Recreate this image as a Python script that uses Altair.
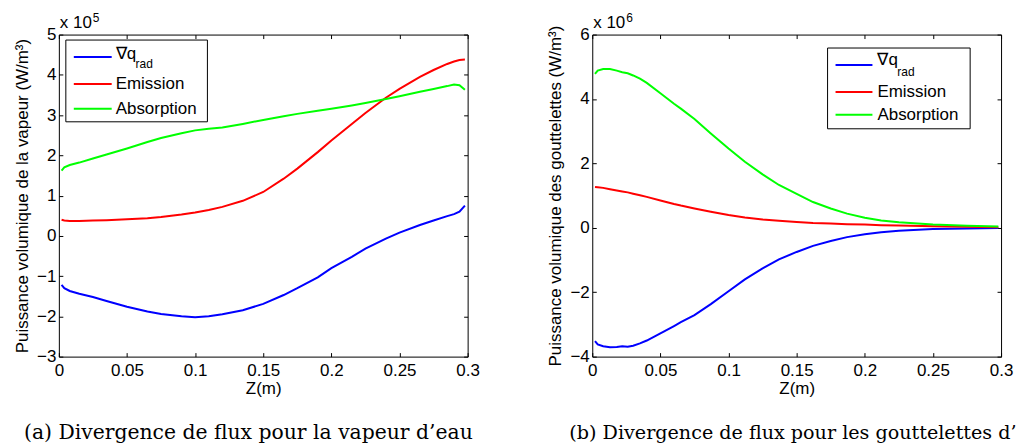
import altair as alt
import pandas as pd

# ---------------- data ----------------
# Panel (a): vapeur d'eau, values in units of 1e5 W/m3
z_a = [0.002, 0.004, 0.008, 0.015, 0.025, 0.035, 0.05, 0.065, 0.075, 0.09, 0.1, 0.11,
       0.12, 0.135, 0.15, 0.165, 0.175, 0.19, 0.2, 0.215, 0.225, 0.24, 0.25, 0.265,
       0.275, 0.285, 0.29, 0.294, 0.298]
grad_a = [-1.22, -1.30, -1.37, -1.44, -1.52, -1.62, -1.76, -1.88, -1.94, -2.00, -2.02, -2.00,
          -1.95, -1.85, -1.69, -1.47, -1.30, -1.03, -0.80, -0.52, -0.32, -0.07, 0.08, 0.27,
          0.38, 0.49, 0.54, 0.60, 0.75]
emis_a = [0.40, 0.38, 0.37, 0.37, 0.38, 0.39, 0.41, 0.44, 0.47, 0.53, 0.58, 0.64,
          0.72, 0.87, 1.09, 1.42, 1.67, 2.08, 2.37, 2.78, 3.05, 3.43, 3.65, 3.95,
          4.12, 4.27, 4.33, 4.37, 4.38]
abs_a = [1.62, 1.70, 1.76, 1.82, 1.92, 2.02, 2.17, 2.33, 2.43, 2.55, 2.62, 2.66,
         2.69, 2.78, 2.88, 2.97, 3.03, 3.11, 3.16, 3.24, 3.30, 3.40, 3.47, 3.58,
         3.65, 3.72, 3.76, 3.74, 3.63]

# Panel (b): gouttelettes, values in units of 1e6 W/m3
z_b = [0.002, 0.004, 0.008, 0.013, 0.018, 0.022, 0.026, 0.03, 0.035, 0.04, 0.05, 0.06,
       0.065, 0.075, 0.087, 0.1, 0.112, 0.125, 0.137, 0.15, 0.162, 0.175, 0.187, 0.2,
       0.212, 0.225, 0.25, 0.275, 0.298]
grad_b = [-3.52, -3.62, -3.68, -3.71, -3.70, -3.68, -3.69, -3.66, -3.59, -3.50, -3.28, -3.05,
          -2.93, -2.71, -2.37, -1.97, -1.60, -1.26, -0.98, -0.75, -0.56, -0.41, -0.29, -0.20,
          -0.14, -0.09, -0.04, -0.02, -0.01]
emis_b = [1.27, 1.26, 1.24, 1.20, 1.16, 1.13, 1.10, 1.06, 1.01, 0.96, 0.85, 0.74,
          0.69, 0.60, 0.50, 0.40, 0.32, 0.26, 0.22, 0.18, 0.15, 0.13, 0.11, 0.10,
          0.08, 0.07, 0.05, 0.03, 0.02]
abs_b = [4.78, 4.88, 4.93, 4.93, 4.88, 4.83, 4.80, 4.73, 4.63, 4.50, 4.18, 3.85,
         3.70, 3.38, 2.93, 2.46, 2.05, 1.66, 1.33, 1.05, 0.80, 0.60, 0.44, 0.31,
         0.23, 0.17, 0.10, 0.06, 0.04]

SERIES = ["grad", "Emission", "Absorption"]
COLORS = ["#0000ff", "#ff0000", "#00ff00"]
XTICKS = [0, 0.05, 0.1, 0.15, 0.2, 0.25, 0.3]
YTICKS_A = [-3, -2, -1, 0, 1, 2, 3, 4, 5]
YTICKS_B = [-4, -2, 0, 2, 4, 6]

FONT = "Liberation Sans"
SERIF = "DejaVu Serif"
W, H = 410, 323


def long_df(z, g, e, a):
    rows = []
    for name, vals in zip(SERIES, [g, e, a]):
        for zi, vi in zip(z, vals):
            rows.append({"z": zi, "v": vi, "s": name})
    return pd.DataFrame(rows)


ONE = pd.DataFrame({"k": [0]})


def txt(s, x, y, size=17, font=FONT, align="left", baseline="middle"):
    return alt.Chart(ONE).mark_text(
        align=align, baseline=baseline, font=font, fontSize=size, color="black"
    ).encode(x=alt.value(x), y=alt.value(y), text=alt.value(s))


def panel(df, ydom, yticks, ytitle, exp_digit, caption, cap_x, cap_size, leg):
    color = alt.Color("s:N", scale=alt.Scale(domain=SERIES, range=COLORS), legend=None)
    xs = alt.Scale(domain=[0, 0.3], nice=False, zero=False)
    ys = alt.Scale(domain=ydom, nice=False, zero=False)
    common = dict(grid=False, domain=False, offset=-4, tickSize=4, tickColor="black",
                  tickWidth=1, labelFont=FONT, labelFontSize=17, labelColor="black",
                  titleFont=FONT, titleFontSize=17, titleFontWeight="normal",
                  titleColor="black")
    frame = alt.Chart(df).mark_line(opacity=0).encode(
        x=alt.X("z:Q", scale=xs, axis=alt.Axis(orient="top", values=XTICKS, labels=False,
                                               title=None, **common)),
        y=alt.Y("v:Q", scale=ys, axis=alt.Axis(orient="right", values=yticks, labels=False,
                                               title=None, **common)),
        detail="s:N",
    )
    lines = alt.Chart(df).mark_line(strokeWidth=2, clip=True).encode(
        x=alt.X("z:Q", scale=xs,
                axis=alt.Axis(orient="bottom", values=XTICKS, format="~g", labelFlush=False,
                              labelOverlap=False, labelPadding=6, title="Z(m)",
                              titlePadding=2, **common)),
        y=alt.Y("v:Q", scale=ys,
                axis=alt.Axis(orient="left", values=yticks, format="~g", labelPadding=3,
                              title=ytitle, titlePadding=5, **common)),
        color=color,
    )
    bx0, bx1, by0, by1, lx0, lx1, ly, tx, subx, qy, suby = leg
    box = alt.Chart(ONE).mark_rect(fill="white", stroke="black", strokeWidth=1).encode(
        x=alt.value(bx0), x2=alt.value(bx1), y=alt.value(by0), y2=alt.value(by1))
    layers = [frame, lines, box]
    for c, yy in zip(COLORS, ly):
        layers.append(alt.Chart(ONE).mark_rule(color=c, strokeWidth=2).encode(
            x=alt.value(lx0), x2=alt.value(lx1), y=alt.value(yy)))
    layers.append(txt("\u2207q", tx, qy))
    layers.append(txt("rad", subx, suby, size=12))
    layers.append(txt("Emission", tx, ly[1]))
    layers.append(txt("Absorption", tx, ly[2]))
    layers.append(txt("x 10", 1, -6.5, size=17, baseline="alphabetic"))
    layers.append(txt(exp_digit, 34, -13, size=12, baseline="alphabetic"))
    layers.append(txt(caption, cap_x, 405.5, size=cap_size, font=SERIF,
                      baseline="alphabetic"))
    return alt.layer(*layers).resolve_axis(x="independent", y="independent").properties(
        width=W, height=H)


df_a = long_df(z_a, grad_a, emis_a, abs_a)
df_b = long_df(z_b, grad_b, emis_b, abs_b)

pa = panel(df_a, [-3, 5], YTICKS_A, "Puissance volumique de la vapeur (W/m\u00b3)", "5",
           "(a) Divergence de flux pour la vapeur d\u2019eau", -35, 20.4,
           (7, 149, 5.5, 87.5, 15, 53, [22.5, 49.5, 74.5], 57, 77, 19.5, 30))
pb = panel(df_b, [-4, 6], YTICKS_B, "Puissance volumique des gouttelettes (W/m\u00b3)", "6",
           "(b) Divergence de flux pour les gouttelettes d\u2019", -23, 19.2,
           (236, 379, 13.5, 94.5, 244, 281, [30.5, 57.5, 80.5], 286, 306, 25.5, 38))

chart = alt.hconcat(pa, pb, spacing=66).configure_view(
    stroke="black", strokeWidth=1
).properties(padding={"left": 5, "top": 2, "right": 0, "bottom": 0})

chart.save("out.html", embed_options={"renderer": "svg", "actions": False})
